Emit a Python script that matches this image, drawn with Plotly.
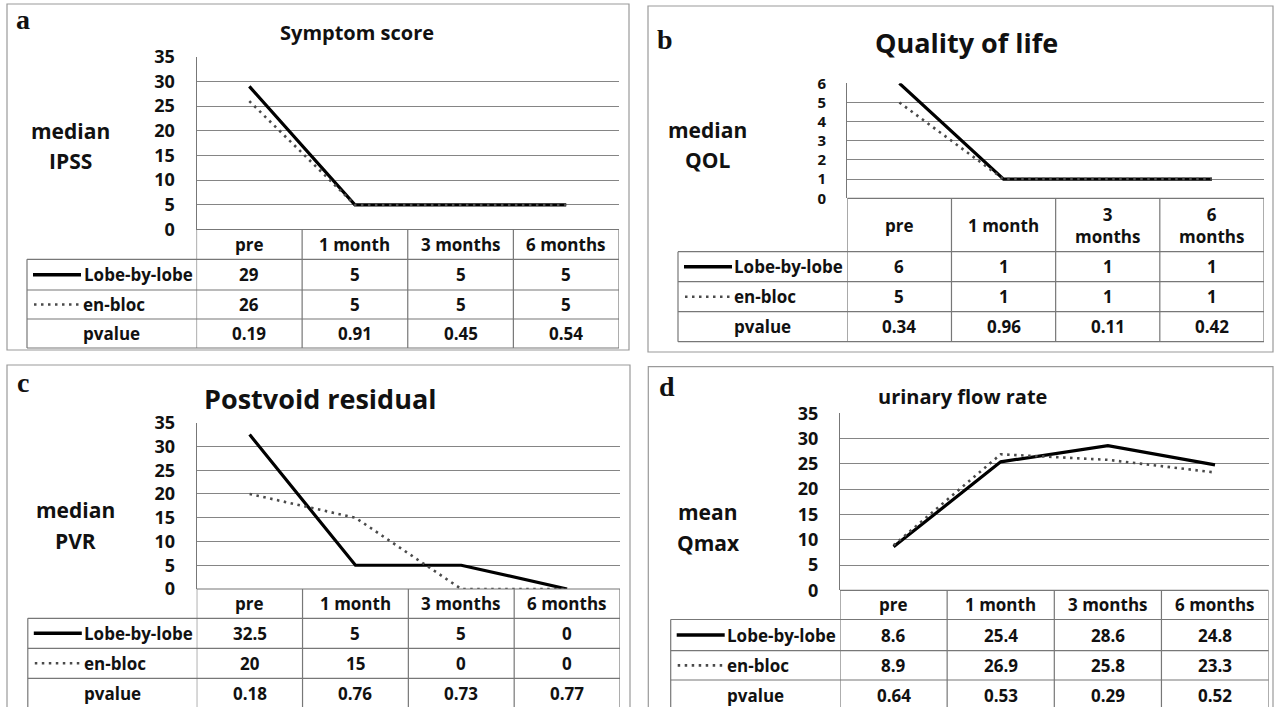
import plotly.graph_objects as go

W, H = 1278, 707

# ---------------- data ----------------
categories = ["pre", "1 month", "3 months", "6 months"]
header_twoline = ["pre", "1 month", "3<br>months", "6<br>months"]
series_names = ["Lobe-by-lobe", "en-bloc"]
p_label = "pvalue"

ipss_lobe = [29, 5, 5, 5]
ipss_enbloc = [26, 5, 5, 5]
ipss_p = ["0.19", "0.91", "0.45", "0.54"]

qol_lobe = [6, 1, 1, 1]
qol_enbloc = [5, 1, 1, 1]
qol_p = ["0.34", "0.96", "0.11", "0.42"]

pvr_lobe = [32.5, 5, 5, 0]
pvr_enbloc = [20, 15, 0, 0]
pvr_p = ["0.18", "0.76", "0.73", "0.77"]

qmax_lobe = [8.6, 25.4, 28.6, 24.8]
qmax_enbloc = [8.9, 26.9, 25.8, 23.3]
qmax_p = ["0.64", "0.53", "0.29", "0.52"]

panel_letters = ["a", "b", "c", "d"]
titles = ["Symptom score", "Quality of life", "Postvoid residual", "urinary flow rate"]
ylabels = [["median", "IPSS"], ["median", "QOL"], ["median", "PVR"], ["mean", "Qmax"]]
y_max = [35, 6, 35, 35]
y_step = [5, 1, 5, 5]

data = [
    (ipss_lobe, ipss_enbloc, ipss_p, categories),
    (qol_lobe, qol_enbloc, qol_p, header_twoline),
    (pvr_lobe, pvr_enbloc, pvr_p, categories),
    (qmax_lobe, qmax_enbloc, qmax_p, categories),
]

# ---------------- layout geometry (pixels) ----------------
geo = [
    dict(box=(7, 4, 629, 350), plot=(196.5, 619, 56.7, 229.5), rows=[259.3, 290, 319, 348],
         tleft=27, letter=(23, 20, 28), title=(357, 33, 20), ylab=(70, 131, 161, 21), tick=18),
    dict(box=(648, 6, 1273, 352), plot=(847.3, 1264, 83.3, 198.3), rows=[251.7, 281.7, 311.7, 341.7],
         tleft=678, letter=(665, 39, 28), title=(966, 43, 27), ylab=(707, 130, 160, 21), tick=15),
    dict(box=(7, 365, 630, 730), plot=(196.7, 620, 422.7, 589), rows=[618.3, 648.3, 678.3, 708.3],
         tleft=27.8, letter=(23, 382, 28), title=(320, 399, 27), ylab=(75, 510, 541, 21), tick=18),
    dict(box=(648.3, 366.7, 1273, 730), plot=(840, 1268.6, 413.3, 590.3), rows=[619.5, 650.7, 680, 710],
         tleft=670.7, letter=(667, 386, 28), title=(962, 396, 20), ylab=(708, 512, 543, 21), tick=18),
]

def px(x):
    return x / W

def py(y):
    return 1 - y / H

FONT = "Open Sans"
TXT = "#111111"
GRID = "#858585"
TLINE = "#777777"
TABLE_FS = 17

fig = go.Figure()
shapes = []
annotations = []

def tfont(size):
    return dict(family=FONT, size=size, color=TXT, weight="bold")

for i in range(4):
    g = geo[i]
    lobe, enbloc, pvals, heads = data[i]
    n = "" if i == 0 else str(i + 1)
    xa, ya = "x" + n, "y" + n
    x0, x1, ytop, ybot = g["plot"]

    fig.add_trace(go.Scatter(x=categories, y=lobe, mode="lines", name=series_names[0],
                             xaxis=xa, yaxis=ya, cliponaxis=False, showlegend=False,
                             line=dict(color="#000000", width=3.2)))
    fig.add_trace(go.Scatter(x=categories, y=enbloc, mode="lines", name=series_names[1],
                             xaxis=xa, yaxis=ya, cliponaxis=False, showlegend=False,
                             line=dict(color="#4a4a4a", width=2.6, dash="2.5px,4.5px")))

    fig.layout["xaxis" + n] = dict(domain=[px(x0), px(x1)], anchor=ya, type="category",
                                   categoryorder="array", categoryarray=categories,
                                   range=[-0.5, 3.5], showgrid=False, showticklabels=False,
                                   showline=False, zeroline=False, fixedrange=True,
                                   automargin=False)
    fig.layout["yaxis" + n] = dict(domain=[py(ybot), py(ytop)], anchor=xa, range=[0, y_max[i]],
                                   dtick=y_step[i], tick0=0, showgrid=True, gridcolor=GRID,
                                   gridwidth=1.2, zeroline=False, showline=True, linecolor=TLINE,
                                   linewidth=1.2, ticks="", ticklabelstandoff=17,
                                   tickfont=tfont(g["tick"]), fixedrange=True, automargin=False)

    bx0, by0, bx1, by1 = g["box"]
    shapes.append(dict(type="rect", xref="paper", yref="paper", x0=px(bx0), x1=px(bx1),
                       y0=py(by1), y1=py(by0), line=dict(color="#9a9a9a", width=1.2)))

    rows = g["rows"]
    tl = g["tleft"]
    shapes.append(dict(type="line", xref=xa, yref="paper", x0=-0.5, x1=3.5,
                       y0=py(ybot), y1=py(ybot), line=dict(color=TLINE, width=1.2)))
    for yy in rows:
        shapes.append(dict(type="line", xref="paper", yref="paper", x0=px(tl), x1=px(x1),
                           y0=py(yy), y1=py(yy), line=dict(color=TLINE, width=1.2)))
    for k in range(5):
        shapes.append(dict(type="line", xref=xa, yref="paper", x0=k - 0.5, x1=k - 0.5,
                           y0=py(rows[-1]), y1=py(ybot), line=dict(color=TLINE, width=1.2)))
    shapes.append(dict(type="line", xref="paper", yref="paper", x0=px(tl), x1=px(tl),
                       y0=py(rows[-1]), y1=py(rows[0]), line=dict(color=TLINE, width=1.2)))

    hc = (ybot + rows[0]) / 2
    for k, cat in enumerate(categories):
        annotations.append(dict(x=cat, xref=xa, y=py(hc), yref="paper", text=heads[k],
                                showarrow=False, font=tfont(TABLE_FS), xanchor="center",
                                yanchor="middle"))
    r_centers = [(rows[0] + rows[1]) / 2, (rows[1] + rows[2]) / 2, (rows[2] + rows[3]) / 2]
    row_vals = [[f"{v:g}" for v in lobe], [f"{v:g}" for v in enbloc], pvals]
    for r in range(3):
        for k, cat in enumerate(categories):
            annotations.append(dict(x=cat, xref=xa, y=py(r_centers[r]), yref="paper",
                                    text=row_vals[r][k], showarrow=False, font=tfont(TABLE_FS),
                                    xanchor="center", yanchor="middle"))
    shapes.append(dict(type="line", xref="paper", yref="paper", x0=px(tl + 6), x1=px(tl + 54),
                       y0=py(r_centers[0]), y1=py(r_centers[0]),
                       line=dict(color="#000000", width=3.5)))
    shapes.append(dict(type="line", xref="paper", yref="paper", x0=px(tl + 7), x1=px(tl + 52),
                       y0=py(r_centers[1]), y1=py(r_centers[1]),
                       line=dict(color="#4a4a4a", width=2.6, dash="2.5px,4.5px")))
    annotations.append(dict(x=px(x0 - 2), xref="paper", y=py(r_centers[0]), yref="paper",
                            text=series_names[0], showarrow=False, font=tfont(TABLE_FS),
                            xanchor="right", yanchor="middle"))
    annotations.append(dict(x=px(tl + 54), xref="paper", y=py(r_centers[1]), yref="paper",
                            text=series_names[1], showarrow=False, font=tfont(TABLE_FS),
                            xanchor="left", yanchor="middle"))
    annotations.append(dict(x=px((tl + x0) / 2), xref="paper", y=py(r_centers[2]), yref="paper",
                            text=p_label, showarrow=False, font=tfont(TABLE_FS),
                            xanchor="center", yanchor="middle"))

    lx, ly, ls = g["letter"]
    annotations.append(dict(x=px(lx), y=py(ly), xref="paper", yref="paper", text=panel_letters[i],
                            showarrow=False, xanchor="center", yanchor="middle",
                            font=dict(family="Liberation Serif", size=ls, color=TXT, weight="bold")))
    tx, ty, ts = g["title"]
    annotations.append(dict(x=px(tx), y=py(ty), xref="paper", yref="paper", text=titles[i],
                            showarrow=False, xanchor="center", yanchor="middle", font=tfont(ts)))
    yx, yy1, yy2, ys = g["ylab"]
    for txt, yy in zip(ylabels[i], [yy1, yy2]):
        annotations.append(dict(x=px(yx), y=py(yy), xref="paper", yref="paper", text=txt,
                                showarrow=False, xanchor="center", yanchor="middle", font=tfont(ys)))

fig.update_layout(width=W, height=H, margin=dict(l=0, r=0, t=0, b=0, pad=0, autoexpand=False),
                  paper_bgcolor="white", plot_bgcolor="white", showlegend=False,
                  shapes=shapes, annotations=annotations)

fig.write_html("out.html", config={"displayModeBar": False},
               post_script="document.body.style.margin='0';document.body.style.overflow='hidden';")
